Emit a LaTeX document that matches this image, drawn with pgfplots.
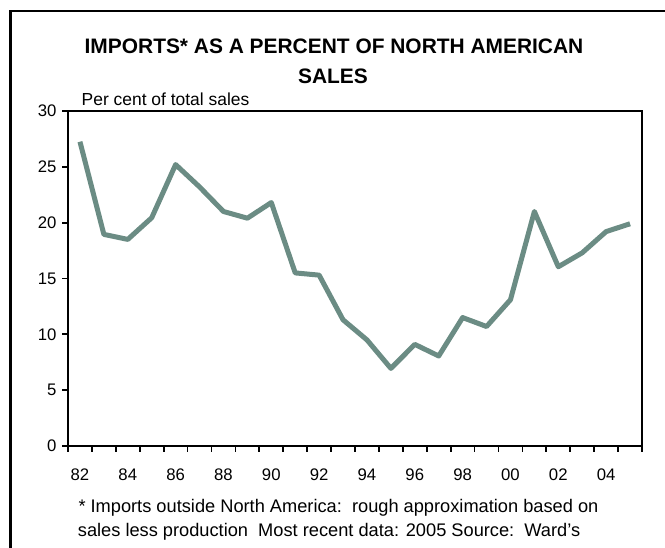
\documentclass[border=0pt]{standalone}
\usepackage{pgfplots}
\pgfplotsset{compat=1.18}
\usepackage{fontspec}
\setmainfont{Liberation Sans}
\definecolor{linec}{HTML}{6B8C84}
\begin{document}
\begin{tikzpicture}[x=1bp,y=1bp]
\useasboundingbox (0,0) rectangle (665,548);
\draw[line width=2.8bp] (10.8,-30) -- (10.8,537) -- (700,537);
\node[font=\fontsize{21}{25}\selectfont\bfseries, anchor=base] at (334,494) {IMPORTS* AS A PERCENT OF NORTH AMERICAN};
\node[font=\fontsize{21}{25}\selectfont\bfseries, anchor=base] at (333,464) {SALES};
\node[font=\fontsize{17.5}{21}\selectfont, anchor=base west, inner sep=0pt] at (81.5,442) {Per cent of total sales};
\node[font=\fontsize{18.3}{22}\selectfont, anchor=base west, inner sep=0pt] at (78.3,35) {* Imports outside North America:\ \ rough approximation based on};
\node[font=\fontsize{18.3}{22}\selectfont, anchor=base west, inner sep=0pt] at (77.7,11) {sales less production\ \ Most recent data: 2005 Source:\ \ Ward's};
\begin{axis}[
  at={(68bp,102bp)}, anchor=south west,
  scale only axis, width=574bp, height=335bp,
  xmin=-0.5, xmax=23.5, ymin=0, ymax=30,
  axis line style={line width=2.5bp},
  tick align=outside,
  xtick pos=lower, ytick pos=left,
  major tick length=6bp,
  tick style={line width=1.8bp, black},
  xtick={-0.5,0.5,...,23.5}, xticklabels={},
  extra x ticks={0,2,...,22},
  extra x tick labels={82,84,86,88,90,92,94,96,98,00,02,04},
  extra x tick style={major tick length=0pt, grid=none,
    xticklabel style={yshift=-19bp}},
  ytick={0,5,...,30},
  /pgf/number format/assume math mode=true,
  tick label style={font=\fontsize{16.8}{20}\selectfont},
  yticklabel style={xshift=-2bp},
  clip=false,
]
\addplot[color=linec, line width=5bp, line join=round] coordinates {
(0,27.25) (1,18.95) (2,18.5) (3,20.44) (4,25.2) (5,23.2) (6,21.0) (7,20.4)
(8,21.8) (9,15.5) (10,15.3) (11,11.3) (12,9.5) (13,6.95) (14,9.1) (15,8.06)
(16,11.5) (17,10.7) (18,13.1) (19,21.0) (20,16.05) (21,17.3) (22,19.2) (23,19.9)
};
\end{axis}
\end{tikzpicture}
\end{document}
